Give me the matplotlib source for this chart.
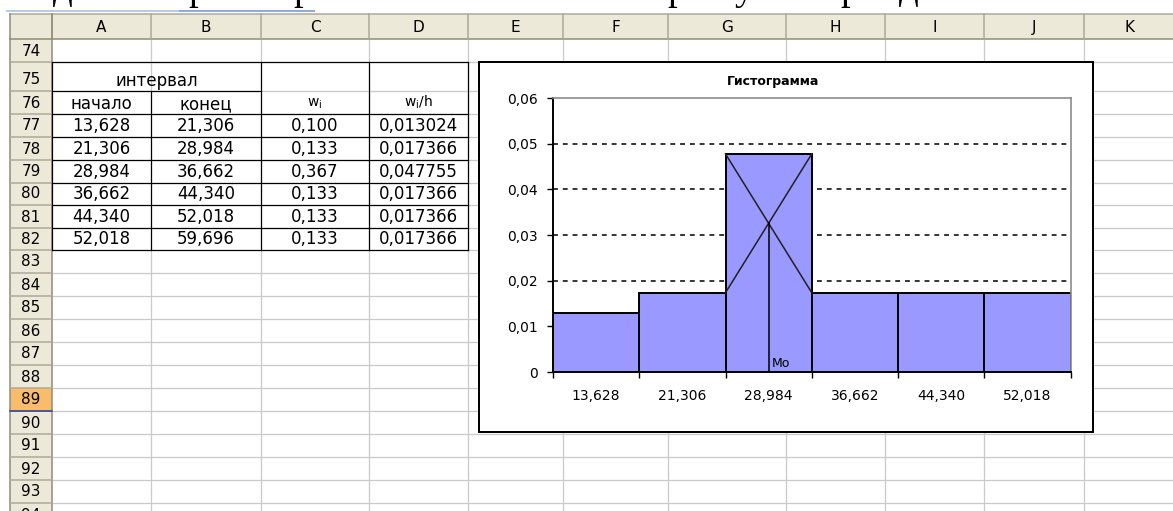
import matplotlib
matplotlib.use('Agg')
import matplotlib.pyplot as plt
from matplotlib.patches import Rectangle
import numpy as np

# interval table
starts = [13.628, 21.306, 28.984, 36.662, 44.340, 52.018]
ends = [21.306, 28.984, 36.662, 44.340, 52.018, 59.696]
w = [0.100, 0.133, 0.367, 0.133, 0.133, 0.133]
wh = [0.013024, 0.017366, 0.047755, 0.017366, 0.017366, 0.017366]
yticks = [0, 0.01, 0.02, 0.03, 0.04, 0.05, 0.06]

col_names = ['A', 'B', 'C', 'D', 'E', 'F', 'G', 'H', 'I', 'J', 'K']
row_nums = list(range(74, 95))
active_row = 89


def comma(v, d):
    return f'{v:.{d}f}'.replace('.', ',')


W, H = 1173, 511
fig = plt.figure(figsize=(W / 100, H / 100), dpi=100)
bg = fig.add_axes([0, 0, 1, 1])
bg.set_xlim(0, W)
bg.set_ylim(H, 0)
bg.axis('off')

PX = 0.72  # one pixel in points

# sheet layout (pixels)
col_edges = [52, 151, 261, 369, 468, 563, 668, 786, 885, 984, 1084, 1200]
row_edges = [39, 62, 91, 114, 137, 160, 183, 205, 228, 250, 273, 296, 319,
             342, 365, 388, 411, 434, 457, 480, 503, 526]
head_bg = '#ECE9D8'
head_ln = '#ACA899'
grid_c = '#CACACA'

# clipped line of document text above the sheet
for ch, x in zip('дррруpд'.replace('p', 'р'), [63, 198, 303, 677, 744, 850, 909]):
    bg.text(x, -1.5, ch, ha='center', va='baseline', fontsize=28,
            family='Liberation Serif', color='black')
bg.plot([7, 180], [11.5, 11.5], color='#B8CBEA', lw=2 * PX)
bg.plot([180, 314], [11.5, 11.5], color='#8FAADC', lw=2 * PX)

# cell gridlines
for x in col_edges[1:-1]:
    bg.plot([x, x], [39, H], color=grid_c, lw=1.3 * PX, zorder=1)
for y in row_edges[1:]:
    bg.plot([52, W], [y, y], color=grid_c, lw=1.3 * PX, zorder=1)

# column header
bg.add_patch(Rectangle((10, 14), W - 10, 25, facecolor=head_bg, edgecolor='none', zorder=2))
bg.plot([10, W], [14, 14], color=head_ln, lw=1.5 * PX, zorder=3)
bg.plot([10, W], [39, 39], color='#8E8A78', lw=1.5 * PX, zorder=3)
for x in col_edges[:-1]:
    bg.plot([x, x], [14, 39], color=head_ln, lw=1.5 * PX, zorder=3)
for i, name in enumerate(col_names):
    bg.text((col_edges[i] + col_edges[i + 1]) / 2 if i < 10 else 1130, 27.5, name,
            ha='center', va='center', fontsize=11, color='black', zorder=4)

# row header
k = row_nums.index(active_row)
bg.add_patch(Rectangle((10, 39), 42, H - 39, facecolor=head_bg, edgecolor='none', zorder=2))
bg.add_patch(Rectangle((10, row_edges[k]), 42, row_edges[k + 1] - row_edges[k],
                       facecolor='#F9BC6A', edgecolor='none', zorder=2))
bg.plot([10, 10], [14, H], color='#8E8A78', lw=1.5 * PX, zorder=3)
bg.plot([52, 52], [14, H], color='#8E8A78', lw=1.5 * PX, zorder=3)
for y in row_edges[1:]:
    bg.plot([10, 52], [y, y], color=head_ln, lw=1.5 * PX, zorder=3)
bg.plot([10, 52], [row_edges[k + 1]] * 2, color='#2A3C9C', lw=1.5 * PX, zorder=3)
for i, n in enumerate(row_nums):
    bg.text(31, row_edges[i + 1] - 11, str(n), ha='center', va='center',
            fontsize=11, color='black', zorder=4)

# data table borders
tk = dict(color='black', lw=1.2 * PX, zorder=5)
bg.plot([52, 468], [62, 62], **tk)
bg.plot([52, 261], [91, 91], **tk)
for y in row_edges[3:10]:
    bg.plot([52, 468], [y, y], **tk)
bg.plot([52, 52], [62, 250], **tk)
bg.plot([151, 151], [91, 250], **tk)
for x in [261, 369, 468]:
    bg.plot([x, x], [62, 250], **tk)

fs = 12
bg.text(156.5, 86, 'интервал', ha='center', va='baseline', fontsize=fs, zorder=6)
bg.text(101.5, 109, 'начало', ha='center', va='baseline', fontsize=fs, zorder=6)
bg.text(206, 109, 'конец', ha='center', va='baseline', fontsize=fs, zorder=6)
bg.text(315, 107, r'$\mathrm{w}_\mathrm{i}$', ha='center', va='baseline', fontsize=10, zorder=6)
bg.text(418.5, 107, r'$\mathrm{w}_\mathrm{i}\mathrm{/h}$', ha='center', va='baseline', fontsize=10, zorder=6)
for i in range(len(starts)):
    yb = row_edges[i + 4] - 6
    vals = [comma(starts[i], 3), comma(ends[i], 3), comma(w[i], 3), comma(wh[i], 6)]
    for j, v in enumerate(vals):
        bg.text((col_edges[j] + col_edges[j + 1]) / 2, yb, v, ha='center',
                va='baseline', fontsize=fs, zorder=6)

# chart object frame and title
bg.add_patch(Rectangle((479, 62), 614, 370, facecolor='white', edgecolor='black',
                       lw=2 * PX, zorder=7))
bg.text(773, 81, 'Гистограмма', ha='center', va='center', fontsize=9,
        fontweight='bold', zorder=8)

# histogram
edges = starts + [ends[-1]]
widths = np.diff(edges)
centers = np.array(starts) + widths / 2

ax = fig.add_axes([553 / W, 1 - 372 / H, (1070.5 - 553) / W, (372 - 98) / H], zorder=9)
ax.set_facecolor('white')
ax.set_xlim(edges[0], edges[-1])
ax.set_ylim(0, 0.06)

ax.hlines(yticks[1:-1], edges[0], edges[-1], colors='black', lw=1.1,
          linestyles=(0, (3.2, 3.2)), zorder=1)
ax.bar(starts, wh, width=widths, align='edge', color='#9999FF',
       edgecolor='black', linewidth=1.4, zorder=2)

# mode construction
m = int(np.argmax(wh))
a, b, fm = starts[m], ends[m], wh[m]
fl, fr = wh[m - 1], wh[m + 1]
h = b - a
x_mo = a + h * (fm - fl) / ((fm - fl) + (fm - fr))
y_mo = fm + (fr - fm) * (x_mo - a) / h
ax.plot([a, b], [fm, fr], color='#202020', lw=1.1, zorder=3)
ax.plot([b, a], [fm, fl], color='#202020', lw=1.1, zorder=3)
ax.plot([x_mo, x_mo], [0, y_mo], color='black', lw=1.1, zorder=3)
ax.annotate('Mo', xy=(x_mo, 0), xytext=(2.5, 1.5), textcoords='offset points',
            ha='left', va='bottom', fontsize=9, zorder=4)

for s in ['left', 'bottom']:
    ax.spines[s].set_color('black')
    ax.spines[s].set_linewidth(1.4)
for s in ['top', 'right']:
    ax.spines[s].set_color('#8C8C8C')
    ax.spines[s].set_linewidth(1.2)

ax.set_yticks(yticks)
ax.set_yticklabels(['0' if v == 0 else comma(v, 2) for v in yticks])
ax.tick_params(axis='y', direction='out', length=4, width=1, pad=7, labelsize=10)

ax.set_xticks(edges)
ax.set_xticklabels([''] * len(edges))
ax.set_xticks(centers, minor=True)
ax.set_xticklabels([comma(v, 3) for v in starts], minor=True)
ax.tick_params(axis='x', which='major', direction='out', length=4, width=1)
ax.tick_params(axis='x', which='minor', length=0, pad=12, labelsize=10)

fig.savefig('out.png', dpi=100)
